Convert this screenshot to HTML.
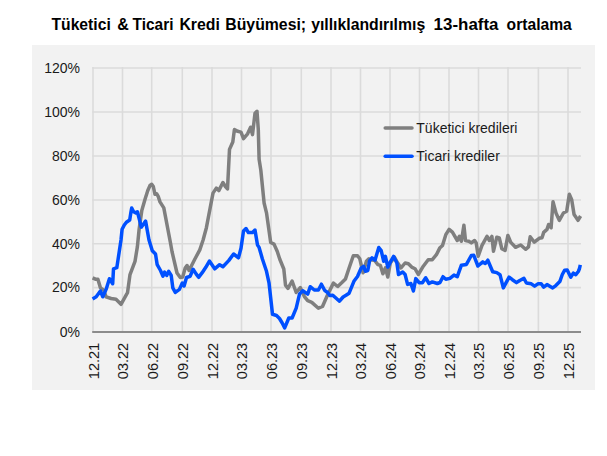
<!DOCTYPE html>
<html><head><meta charset="utf-8"><style>
html,body{margin:0;padding:0;background:#fff;}
body{width:607px;height:456px;overflow:hidden;position:relative;}
svg{position:absolute;left:0;top:0;}
text{font-family:"Liberation Sans",sans-serif;font-size:14px;fill:#1a1a1a;}
.title{font-weight:bold;font-size:16px;fill:#000;}
</style></head><body>
<svg width="607" height="456" viewBox="0 0 607 456">
<rect x="0" y="0" width="607" height="456" fill="#fff"/>
<rect x="32" y="45" width="563" height="345" fill="#f2f2f2"/>
<text class="title" x="51.50" y="29.8" textLength="59.25" lengthAdjust="spacingAndGlyphs">Tüketici</text>
<text class="title" x="117.20" y="29.8" textLength="11.55" lengthAdjust="spacingAndGlyphs">&amp;</text>
<text class="title" x="132.60" y="29.8" textLength="40.83" lengthAdjust="spacingAndGlyphs">Ticari</text>
<text class="title" x="179.41" y="29.8" textLength="40.43" lengthAdjust="spacingAndGlyphs">Kredi</text>
<text class="title" x="225.31" y="29.8" textLength="80.80" lengthAdjust="spacingAndGlyphs">Büyümesi;</text>
<text class="title" x="311.20" y="29.8" textLength="114.00" lengthAdjust="spacingAndGlyphs">yıllıklandırılmış</text>
<text class="title" x="433.64" y="29.8" textLength="64.85" lengthAdjust="spacingAndGlyphs">13-hafta</text>
<text class="title" x="506.60" y="29.8" textLength="65.20" lengthAdjust="spacingAndGlyphs">ortalama</text>
<line x1="93.00" y1="67.0" x2="93.00" y2="332.0" stroke="#dbdbdb" stroke-width="1.6"/>
<line x1="122.50" y1="67.0" x2="122.50" y2="332.0" stroke="#dbdbdb" stroke-width="1.6"/>
<line x1="151.70" y1="67.0" x2="151.70" y2="332.0" stroke="#dbdbdb" stroke-width="1.6"/>
<line x1="182.30" y1="67.0" x2="182.30" y2="332.0" stroke="#dbdbdb" stroke-width="1.6"/>
<line x1="212.00" y1="67.0" x2="212.00" y2="332.0" stroke="#dbdbdb" stroke-width="1.6"/>
<line x1="241.50" y1="67.0" x2="241.50" y2="332.0" stroke="#dbdbdb" stroke-width="1.6"/>
<line x1="271.00" y1="67.0" x2="271.00" y2="332.0" stroke="#dbdbdb" stroke-width="1.6"/>
<line x1="301.30" y1="67.0" x2="301.30" y2="332.0" stroke="#dbdbdb" stroke-width="1.6"/>
<line x1="331.00" y1="67.0" x2="331.00" y2="332.0" stroke="#dbdbdb" stroke-width="1.6"/>
<line x1="360.50" y1="67.0" x2="360.50" y2="332.0" stroke="#dbdbdb" stroke-width="1.6"/>
<line x1="390.00" y1="67.0" x2="390.00" y2="332.0" stroke="#dbdbdb" stroke-width="1.6"/>
<line x1="419.50" y1="67.0" x2="419.50" y2="332.0" stroke="#dbdbdb" stroke-width="1.6"/>
<line x1="449.00" y1="67.0" x2="449.00" y2="332.0" stroke="#dbdbdb" stroke-width="1.6"/>
<line x1="478.50" y1="67.0" x2="478.50" y2="332.0" stroke="#dbdbdb" stroke-width="1.6"/>
<line x1="508.00" y1="67.0" x2="508.00" y2="332.0" stroke="#dbdbdb" stroke-width="1.6"/>
<line x1="538.40" y1="67.0" x2="538.40" y2="332.0" stroke="#dbdbdb" stroke-width="1.6"/>
<line x1="568.00" y1="67.0" x2="568.00" y2="332.0" stroke="#dbdbdb" stroke-width="1.6"/>
<line x1="92.2" y1="68.00" x2="581.0" y2="68.00" stroke="#dbdbdb" stroke-width="1.6"/>
<line x1="92.2" y1="112.00" x2="581.0" y2="112.00" stroke="#dbdbdb" stroke-width="1.6"/>
<line x1="92.2" y1="156.00" x2="581.0" y2="156.00" stroke="#dbdbdb" stroke-width="1.6"/>
<line x1="92.2" y1="200.00" x2="581.0" y2="200.00" stroke="#dbdbdb" stroke-width="1.6"/>
<line x1="92.2" y1="243.70" x2="581.0" y2="243.70" stroke="#dbdbdb" stroke-width="1.6"/>
<line x1="92.2" y1="287.60" x2="581.0" y2="287.60" stroke="#dbdbdb" stroke-width="1.6"/>
<line x1="92.2" y1="332.00" x2="581.0" y2="332.00" stroke="#8c8c8c" stroke-width="1.8"/>
<text x="80" y="72.8" text-anchor="end">120%</text>
<text x="80" y="116.8" text-anchor="end">100%</text>
<text x="80" y="160.8" text-anchor="end">80%</text>
<text x="80" y="204.8" text-anchor="end">60%</text>
<text x="80" y="248.5" text-anchor="end">40%</text>
<text x="80" y="292.4" text-anchor="end">20%</text>
<text x="80" y="336.8" text-anchor="end">0%</text>
<text transform="translate(98.8,342.8) rotate(-90)" text-anchor="end" textLength="36.4" lengthAdjust="spacingAndGlyphs">12.21</text>
<text transform="translate(128.3,342.8) rotate(-90)" text-anchor="end" textLength="36.4" lengthAdjust="spacingAndGlyphs">03.22</text>
<text transform="translate(157.5,342.8) rotate(-90)" text-anchor="end" textLength="36.4" lengthAdjust="spacingAndGlyphs">06.22</text>
<text transform="translate(188.1,342.8) rotate(-90)" text-anchor="end" textLength="36.4" lengthAdjust="spacingAndGlyphs">09.22</text>
<text transform="translate(217.8,342.8) rotate(-90)" text-anchor="end" textLength="36.4" lengthAdjust="spacingAndGlyphs">12.22</text>
<text transform="translate(247.3,342.8) rotate(-90)" text-anchor="end" textLength="36.4" lengthAdjust="spacingAndGlyphs">03.23</text>
<text transform="translate(276.8,342.8) rotate(-90)" text-anchor="end" textLength="36.4" lengthAdjust="spacingAndGlyphs">06.23</text>
<text transform="translate(307.1,342.8) rotate(-90)" text-anchor="end" textLength="36.4" lengthAdjust="spacingAndGlyphs">09.23</text>
<text transform="translate(336.8,342.8) rotate(-90)" text-anchor="end" textLength="36.4" lengthAdjust="spacingAndGlyphs">12.23</text>
<text transform="translate(366.3,342.8) rotate(-90)" text-anchor="end" textLength="36.4" lengthAdjust="spacingAndGlyphs">03.24</text>
<text transform="translate(395.8,342.8) rotate(-90)" text-anchor="end" textLength="36.4" lengthAdjust="spacingAndGlyphs">06.24</text>
<text transform="translate(425.3,342.8) rotate(-90)" text-anchor="end" textLength="36.4" lengthAdjust="spacingAndGlyphs">09.24</text>
<text transform="translate(454.8,342.8) rotate(-90)" text-anchor="end" textLength="36.4" lengthAdjust="spacingAndGlyphs">12.24</text>
<text transform="translate(484.3,342.8) rotate(-90)" text-anchor="end" textLength="36.4" lengthAdjust="spacingAndGlyphs">03.25</text>
<text transform="translate(513.8,342.8) rotate(-90)" text-anchor="end" textLength="36.4" lengthAdjust="spacingAndGlyphs">06.25</text>
<text transform="translate(544.2,342.8) rotate(-90)" text-anchor="end" textLength="36.4" lengthAdjust="spacingAndGlyphs">09.25</text>
<text transform="translate(573.8,342.8) rotate(-90)" text-anchor="end" textLength="36.4" lengthAdjust="spacingAndGlyphs">12.25</text>
<polyline points="92.6,277.9 95.4,279.2 97.9,279.2 100.4,287.8 103.7,290.2 106.1,296.8 111.1,298.5 116.0,299.3 121.0,304.3 127.5,292.7 130.0,274.6 135.0,261.4 137.4,246.6 139.1,229.5 141.8,210.5 145.1,199.0 147.8,190.5 150.0,185.5 151.7,184.3 153.3,186.5 155.0,194.3 156.6,193.7 158.2,196.4 160.0,201.9 163.8,207.9 170.4,242.5 172.0,251.5 177.0,273.0 180.3,277.6 182.7,277.0 185.2,268.0 187.0,265.5 189.1,270.5 194.9,259.0 199.8,249.9 203.1,240.0 206.4,227.7 213.0,193.1 216.3,188.1 218.8,190.6 222.9,182.5 225.4,186.5 227.5,188.9 229.5,149.4 232.8,142.0 234.4,129.6 237.7,131.3 241.0,132.1 243.5,138.7 247.6,133.8 250.6,127.2 252.5,134.6 255.0,113.2 257.0,111.3 258.3,129.7 259.1,159.3 260.8,170.0 264.1,203.0 266.5,212.8 270.7,242.5 274.0,244.1 277.3,251.5 279.7,259.0 283.8,269.0 285.5,285.1 288.0,288.4 292.1,281.0 296.2,292.5 300.3,287.5 304.4,296.6 307.7,300.7 311.8,302.4 318.4,308.2 322.5,306.5 327.5,295.0 333.4,283.1 337.7,286.5 341.9,282.5 345.5,278.9 349.1,268.0 353.3,255.8 357.5,255.8 359.8,258.8 363.1,272.8 366.4,261.3 368.9,258.8 371.4,259.7 374.7,260.5 377.9,264.6 380.4,265.4 382.9,273.7 385.4,267.9 387.8,277.0 390.3,263.0 394.4,257.2 397.7,263.0 401.0,267.9 405.1,263.0 408.4,263.8 411.7,267.1 415.0,268.7 418.3,274.5 423.3,266.2 428.2,259.7 432.3,259.7 436.4,254.7 439.7,248.1 442.5,245.4 445.8,234.7 449.1,229.4 452.4,232.2 457.3,240.5 459.4,236.4 461.4,241.3 463.9,225.3 465.5,240.5 468.8,241.3 471.3,242.9 474.6,240.5 476.2,242.9 478.2,256.2 482.0,245.4 487.0,236.4 489.4,240.5 491.9,236.4 493.5,251.2 496.8,237.2 499.3,238.0 501.8,248.7 505.1,250.4 507.9,235.4 510.8,242.4 515.5,247.3 520.7,245.0 525.6,249.3 528.5,246.9 530.2,236.8 534.3,242.2 539.2,238.3 542.0,237.7 543.7,232.4 547.0,229.4 548.6,224.5 551.1,227.8 553.0,201.8 556.0,213.0 559.3,220.4 563.4,213.0 566.7,211.3 569.3,194.3 571.7,199.8 574.1,214.6 578.0,220.3 580.6,216.0" fill="none" stroke="#7f7f7f" stroke-width="3.5" stroke-linejoin="round" stroke-linecap="butt"/>
<polyline points="92.6,299.0 96.2,296.8 100.4,291.0 102.8,296.8 106.1,289.4 109.4,278.7 112.7,283.7 113.5,268.8 116.8,267.7 118.5,256.5 121.0,240.0 122.1,229.3 124.3,225.0 126.4,222.2 129.7,220.0 130.8,212.9 131.7,208.0 133.6,211.8 135.8,212.9 137.4,211.8 139.1,218.4 141.3,227.1 142.9,225.0 145.6,221.1 149.0,240.0 152.3,250.7 155.5,254.0 157.2,264.7 160.5,270.5 163.0,276.2 164.6,272.1 166.7,275.4 168.7,271.3 171.2,275.4 172.8,287.8 175.3,292.4 179.4,289.4 182.3,283.0 184.1,286.0 186.5,277.5 190.1,276.3 193.1,269.3 196.1,273.9 198.6,277.3 202.2,272.7 205.8,267.3 209.4,261.1 214.7,268.8 219.6,264.7 222.9,266.7 228.7,260.6 233.6,254.0 238.5,257.8 241.0,248.2 243.5,231.0 246.0,228.5 248.4,232.6 252.5,232.6 255.0,230.1 257.5,245.0 259.1,247.4 262.4,259.0 266.5,271.3 269.0,282.8 272.5,314.3 276.5,315.5 279.5,318.5 282.2,323.0 284.7,327.9 288.8,318.0 292.1,318.0 296.2,308.1 299.5,294.1 302.8,290.8 307.7,294.1 310.2,286.7 314.3,290.0 318.4,290.0 321.4,284.2 324.6,290.3 327.6,292.5 329.8,295.5 332.8,295.2 339.5,301.2 343.1,297.0 346.0,295.3 349.1,293.2 353.9,281.3 357.5,276.5 361.1,268.1 363.6,266.3 365.4,271.2 367.8,270.5 369.6,260.8 372.0,257.8 375.0,260.2 378.8,247.5 381.2,250.6 383.7,261.3 385.4,256.4 387.8,267.1 390.3,262.1 393.6,256.4 396.9,263.0 398.5,274.5 402.7,272.0 405.1,274.5 407.6,284.4 410.9,283.5 413.4,291.0 415.8,278.6 419.1,282.7 422.4,282.7 425.7,277.8 429.0,283.5 432.3,281.9 437.3,283.5 440.0,282.5 443.0,276.7 445.8,279.2 449.9,278.4 454.0,275.1 457.3,276.7 461.4,265.2 466.4,264.4 471.3,255.5 473.8,255.3 477.9,266.0 482.8,261.9 485.3,263.5 487.8,260.2 492.7,271.8 496.8,272.6 500.0,274.7 503.3,287.9 509.1,277.2 512.4,279.7 516.5,282.6 519.8,280.5 523.9,278.3 526.4,283.0 531.3,283.8 534.6,286.2 537.9,283.8 541.2,283.8 543.7,287.1 547.0,284.6 552.7,287.9 555.8,285.6 559.8,281.6 562.3,274.5 564.7,270.2 567.2,270.0 570.8,277.2 573.3,273.1 575.8,274.7 578.3,271.5 579.5,268.5 580.3,264.8" fill="none" stroke="#0050ff" stroke-width="3.5" stroke-linejoin="round" stroke-linecap="butt"/>
<line x1="385.2" y1="127.9" x2="412" y2="127.9" stroke="#7f7f7f" stroke-width="3.5" stroke-linecap="round"/>
<line x1="385.2" y1="156.3" x2="412" y2="156.3" stroke="#0050ff" stroke-width="3.5" stroke-linecap="round"/>
<text x="416.3" y="132.8">Tüketici kredileri</text>
<text x="416.3" y="161.0">Ticari krediler</text>
</svg>
</body></html>
